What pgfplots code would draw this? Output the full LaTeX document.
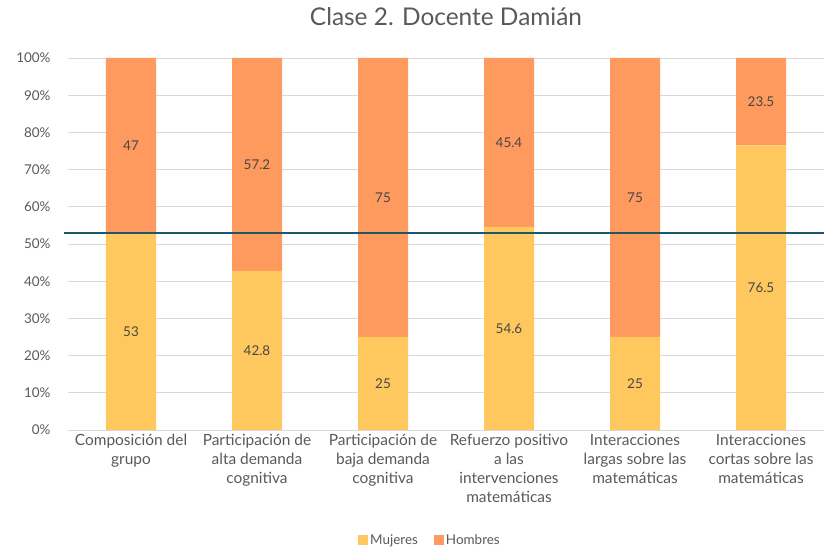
\documentclass[border=0pt]{standalone}
\usepackage{pgfplots}
\pgfplotsset{compat=1.18}
\usepackage{pgfplotstable}
\usepackage{fontspec}
\setmainfont{Lato}
\definecolor{mujer}{HTML}{FFC85F}
\definecolor{hombre}{HTML}{FF9A5E}
\definecolor{linea}{HTML}{1F5768}
\definecolor{gristxt}{HTML}{595959}
\definecolor{grilla}{HTML}{D9D9D9}

\pgfplotstableread{
x m h
0 53 47
1 42.8 57.2
2 25 75
3 54.6 45.4
4 25 75
5 76.5 23.5
}\datos

\pgfplotsset{base/.style={
    scale only axis,
    width=756bp, height=372bp,
    xmin=-0.5, xmax=5.5,
    ymin=0, ymax=100,
    clip=false,
    /pgf/number format/assume math mode=true,
}}

\begin{document}
\begin{tikzpicture}
\begin{axis}[
    base,
    ybar stacked,
    bar width=50bp,
    axis x line*=bottom,
    axis y line*=left,
    y axis line style={draw=none},
    x axis line style={grilla, line width=0.8pt},
    ymajorgrids,
    grid style={grilla, line width=0.8pt},
    ytick={0,10,...,100},
    yticklabel={\pgfmathprintnumber{\tick}\%},
    yticklabel style={font=\fontsize{13.5}{16}\selectfont, text=gristxt, xshift=-14bp},
    xtick=data,
    xtick style={draw=none},
    ytick style={draw=none},
    xticklabels={{Composición del\\grupo},{Participación de\\alta demanda\\cognitiva},{Participación de\\baja demanda\\cognitiva},{Refuerzo positivo\\a las\\intervenciones\\matemáticas},{Interacciones\\largas sobre las\\matemáticas},{Interacciones\\cortas sobre las\\matemáticas}},
    xticklabel style={align=center, font=\fontsize{15.5}{19}\selectfont, text=gristxt, yshift=-1bp},
    title={Clase 2. Docente Damián},
    title style={at={(0.5,1)}, anchor=center, yshift=35bp, font=\fontsize{24.5}{28}\selectfont, text=gristxt},
    legend style={at={(0.5,-0.296)}, anchor=center, xshift=-16bp, draw=none, legend columns=2,
        font=\fontsize{13.5}{16}\selectfont, text=gristxt,
        /tikz/every even column/.append style={column sep=14bp}},
    legend image code/.code={\fill[#1] (0bp,-5bp) rectangle (10bp,5bp);},
]
\addplot[fill=mujer, draw=none] table[x=x, y=m] {\datos};
\addplot[fill=hombre, draw=none] table[x=x, y=h] {\datos};
\legend{Mujeres, Hombres}
\end{axis}
\begin{axis}[
    base,
    hide axis,
]
\addplot[linea, line width=1.8pt] coordinates {(-0.53,53) (5.5,53)};
\addplot[only marks, mark=none, nodes near coords, point meta=explicit,
    nodes near coords style={anchor=center, font=\fontsize{13.5}{16}\selectfont, text=black!72}]
    table[x=x, y expr=\thisrow{m}/2, meta=m] {\datos};
\addplot[only marks, mark=none, nodes near coords, point meta=explicit,
    nodes near coords style={anchor=center, font=\fontsize{13.5}{16}\selectfont, text=black!72}]
    table[x=x, y expr=\thisrow{m}+\thisrow{h}/2, meta=h] {\datos};
\end{axis}
\pgfresetboundingbox
\path (current axis.south west) ++(-68bp,-118bp) rectangle ([yshift=58bp]current axis.north east);
\end{tikzpicture}
\end{document}
